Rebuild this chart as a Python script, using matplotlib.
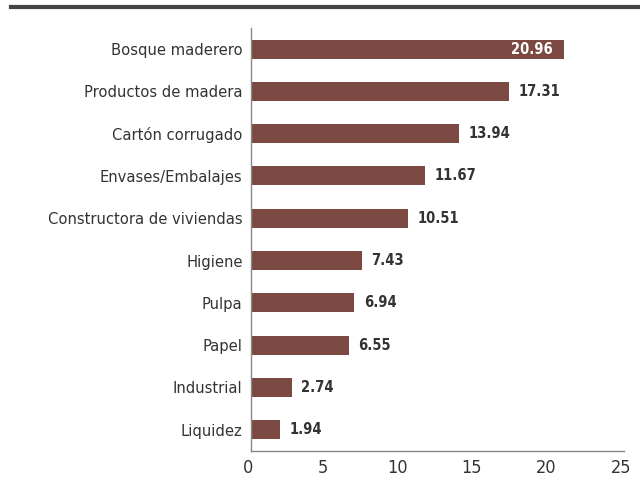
import matplotlib
matplotlib.use("Agg")
import matplotlib.pyplot as plt
import matplotlib.transforms as mtransforms
from matplotlib.lines import Line2D
from matplotlib import font_manager

# ── Data ──────────────────────────────────────────────────────────────────────
categories = [
    "Bosque maderero",
    "Productos de madera",
    "Cartón corrugado",
    "Envases/Embalajes",
    "Constructora de viviendas",
    "Higiene",
    "Pulpa",
    "Papel",
    "Industrial",
    "Liquidez",
]
values = [20.96, 17.31, 13.94, 11.67, 10.51, 7.43, 6.94, 6.55, 2.74, 1.94]
xticks = [0, 5, 10, 15, 20, 25]

# ── Style ─────────────────────────────────────────────────────────────────────
BAR = "#7B4941"
TEXT = "#333333"
names = {f.name for f in font_manager.fontManager.ttflist}
FAMILY = ["Liberation Sans Narrow", "DejaVu Sans"] if "Liberation Sans Narrow" in names else ["DejaVu Sans"]
plt.rcParams["font.family"] = FAMILY
plt.rcParams["font.stretch"] = "condensed"

fig = plt.figure(figsize=(6.4, 4.9), dpi=100)
ax = fig.add_axes([0.392, 0.080, 0.583, 0.863])

ypos = list(range(len(categories)))
ax.barh(ypos, values, height=0.45, color=BAR)
ax.set_ylim(9.5, -0.5)
ax.set_xlim(0, 25)
ax.set_yticks(ypos)
ax.set_yticklabels(categories, fontsize=11.8, color=TEXT)
ax.set_xticks(xticks)
ax.set_xticklabels([str(t) for t in xticks], fontsize=13, color=TEXT)
ax.tick_params(length=0, pad=6)
ax.tick_params(axis="x", pad=6)

# x tick labels sit a little left of their ticks in the reference
shift = mtransforms.ScaledTranslation(-3 / 100, 0, fig.dpi_scale_trans)
for lab in ax.get_xticklabels():
    lab.set_transform(lab.get_transform() + shift)

for s in ("top", "right"):
    ax.spines[s].set_visible(False)
for s in ("left", "bottom"):
    ax.spines[s].set_color("#888888")
    ax.spines[s].set_linewidth(1.0)

# value labels: inside (white) for the longest bar, outside otherwise
vmax = max(values)
for y, v in zip(ypos, values):
    if v == vmax:
        ax.annotate(f"{v:.2f}", xy=(v, y), xytext=(-8, 0), textcoords="offset points",
                    ha="right", va="center", fontsize=10.5, fontweight="bold", color="white")
    else:
        ax.annotate(f"{v:.2f}", xy=(v, y), xytext=(7, 0), textcoords="offset points",
                    ha="left", va="center", fontsize=10.5, fontweight="bold", color=TEXT)

# thick rule across the top
fig.add_artist(Line2D([11 / 640, 1.0], [1 - 7 / 490, 1 - 7 / 490],
                      transform=fig.transFigure, color="#444444", lw=3))

fig.savefig("out.png", dpi=100)
